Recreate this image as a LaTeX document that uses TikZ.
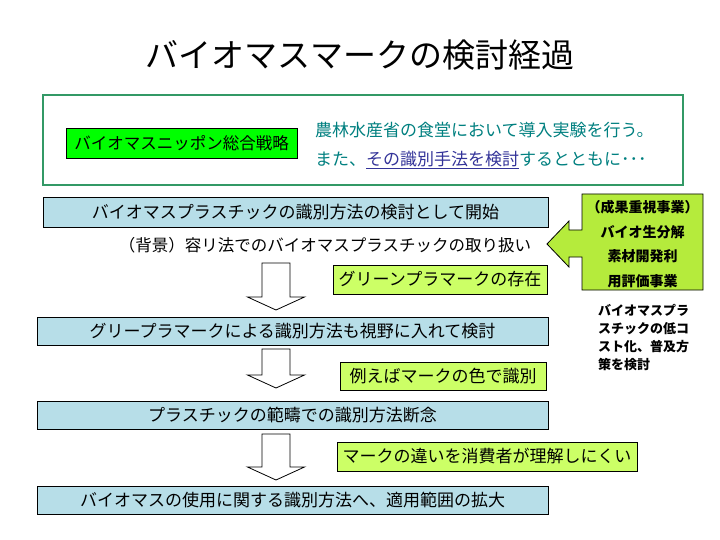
\documentclass[tikz,border=0pt]{standalone}
\usepackage{fontspec}
\newfontfamily\cjk{Noto Sans CJK JP}
\definecolor{frameg}{RGB}{51,153,102}
\definecolor{lblue}{RGB}{183,222,232}
\definecolor{ygreen}{RGB}{204,255,102}
\definecolor{cgreen}{RGB}{181,235,60}
\definecolor{brgreen}{RGB}{0,255,0}
\definecolor{tealtxt}{RGB}{0,128,128}
\definecolor{linkblue}{RGB}{51,51,153}
\newcommand{\blockdown}[4]{%
  \draw[downarr] (#1-14,#2) -- (#1+14,#2) -- (#1+14,#3) -- (#1+28.5,#3) -- (#1,#4) -- (#1-28.5,#3) -- (#1-14,#3) -- cycle;}
\begin{document}
\begin{tikzpicture}[x=1pt,y=-1pt,
  every node/.style={font=\cjk},
  flowbox/.style={draw=black, fill=lblue, line width=0.8pt, minimum width=511, minimum height=28, inner sep=0, font=\cjk\fontsize{17}{20}\selectfont},
  notebox/.style={draw=black, fill=ygreen, line width=0.8pt, inner sep=0, font=\cjk\fontsize{17}{20}\selectfont},
  downarr/.style={draw=black, fill=white, line width=0.8pt},
  tealline/.style={anchor=west, inner sep=0, text=tealtxt, font=\cjk\fontsize{17}{20}\selectfont}]
\useasboundingbox (0,0) rectangle (720,540);
\fill[white] (0,0) rectangle (720,540);
% title
\node (title) at (360,55) {\fontsize{33}{38}\selectfont バイオマスマークの検討経過};
% top frame
\node[draw=frameg, line width=2pt, minimum width=640, minimum height=90, inner sep=0] (frame) at (363,140) {};
\node[draw=black, fill=brgreen, line width=0.8pt, minimum width=231, minimum height=30, inner sep=0,
  font=\cjk\fontsize{16.5}{19}\selectfont] (strat) at (181.5,143) {バイオマスニッポン総合戦略};
\node[tealline] (l1) at (315,130) {農林水産省の食堂において導入実験を行う。};
\node[tealline] (l2) at (315,160) {また、{\color{linkblue}\underline{その識別手法を検討}}するとともに･･･};
% flow
\node[flowbox, minimum width=505, minimum height=30] (b1) at (295.5,212) {バイオマスプラスチックの識別方法の検討として開始};
\node[font=\cjk\fontsize{16.5}{19}\selectfont] (bg) at (325,245) {（背景）容リ法でのバイオマスプラスチックの取り扱い};
\node[notebox, minimum width=214, minimum height=29] (n1) at (440,279.5) {グリーンプラマークの存在};
\node[flowbox] (b2) at (292.5,331) {グリープラマークによる識別方法も視野に入れて検討};
\node[notebox, minimum width=206, minimum height=28] (n2) at (443,376) {例えばマークの色で識別};
\node[flowbox] (b3) at (292.5,415) {プラスチックの範疇での識別方法断念};
\node[notebox, minimum width=300, minimum height=29] (n3) at (487,456.5) {マークの違いを消費者が理解しにくい};
\node[flowbox] (b4) at (292.5,500) {バイオマスの使用に関する識別方法へ、適用範囲の拡大};
% block arrows
\blockdown{276}{263}{297}{310}
\blockdown{276}{349}{375}{388}
\blockdown{276}{434}{467}{480}
% callout
\draw[draw=black, fill=cgreen, line width=0.8pt]
  (582,194) -- (703,194) -- (703,290) -- (582,290) -- (582,257) -- (569,257) -- (569,267)
  -- (547,244) -- (569,221) -- (569,230) -- (582,230) -- cycle;
\node[align=center, inner sep=0, font=\cjk\bfseries\fontsize{14}{24.5}\selectfont] (call) at (642.5,244)
  {（成果重視事業）\\バイオ生分解\\素材開発利\\用評価事業};
\node[anchor=north west, align=left, inner sep=0, font=\cjk\bfseries\fontsize{13}{18}\selectfont] (side) at (598,304)
  {バイオマスプラ\\スチックの低コ\\スト化、普及方\\策を検討};
\end{tikzpicture}
\end{document}
